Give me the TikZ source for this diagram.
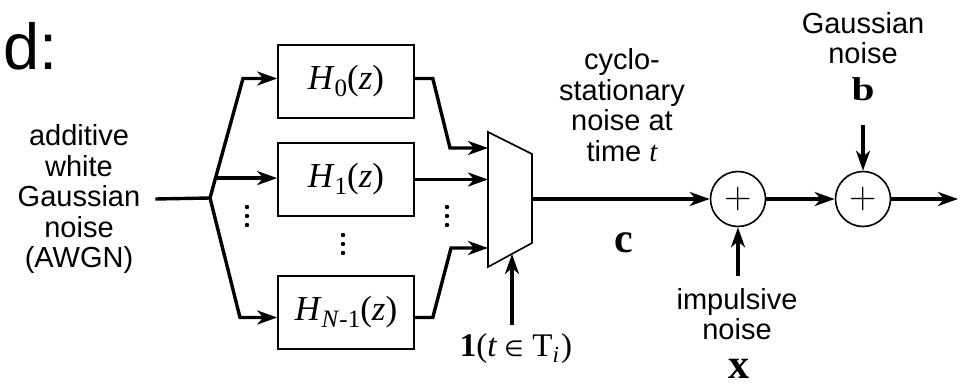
\documentclass[tikz,border=0pt]{standalone}
\usepackage{fontspec}
\setsansfont{Liberation Sans}
\newfontfamily\tms{Liberation Serif}
\newfontfamily\dvs{DejaVu Sans}
\usetikzlibrary{arrows.meta,calc}
\newcommand{\Hsub}[1]{{\tms\fontsize{35}{35}\selectfont\textit{H}\raisebox{-7pt}{\fontsize{25}{25}\selectfont #1}(\textit{z})}}
\begin{document}
\begin{tikzpicture}[x=1pt,y=-1pt,
  lbl/.style={font=\sffamily\fontsize{29}{30.5}\selectfont, align=center, inner sep=0pt},
  wire/.style={line width=3.4pt, line join=miter},
  arr/.style={wire,-{Stealth[length=20pt,width=14pt,inset=6pt]}},
  filt/.style={draw, line width=1.6pt, minimum width=136pt, minimum height=73pt, inner sep=0pt},
  sum/.style={draw, circle, line width=1.6pt, minimum size=55pt, inner sep=0pt, font=\rmfamily\fontsize{38}{38}\selectfont},
  vec/.style={font=\tms\bfseries\fontsize{42}{42}\selectfont, inner sep=0pt},
  thinline/.style={line width=1.6pt, line join=miter}
]
\useasboundingbox (0,0) rectangle (965,385);

\node[font=\sffamily\fontsize{65}{65}\selectfont, anchor=base west, inner sep=0pt] (lab) at (3,70) {d:};

\node[lbl] (awgn) at (79,199) {additive\\white\\Gaussian\\noise\\(AWGN)};

\node[filt] (h0) at (346,81.5) {\Hsub{0}};
\node[filt] (h1) at (346,179.5) {\Hsub{1}};
\node[filt] (hn) at (346,312.5) {\Hsub{\textit{N}-1}};

\coordinate (split) at (210,198);
\coordinate (b0) at (243,78.5);
\coordinate (bn) at (240,317.5);
\coordinate (b1) at ($(split)!0.1667!(b0)$);

\draw[wire] ([xshift=15pt]awgn.east) -- (split);
\draw[arr] (split) -- (b0) -- (b0 -| h0.west);
\draw[arr] (b1) -- (b1 -| h1.west);
\draw[arr] (split) -- (bn) -- (bn -| hn.west);

% multiplexer
\coordinate (mtl) at (488,132);
\coordinate (mtr) at (532,154);
\coordinate (mbr) at (532,243);
\coordinate (mbl) at (488,267);
\draw[thinline] (mtl) -- (mtr) -- (mbr) -- (mbl) -- cycle;
\coordinate (mout) at (532,199);
\coordinate (mctl) at (512,254);

\coordinate (c0) at (450,148);
\coordinate (cn) at (451,248);
\draw[arr] ([yshift=3pt]h0.east) -- ++(18,0) -- (c0) -- (c0 -| mtl);
\draw[arr] (h1.east) -- (h1.east -| mtl);
\draw[arr] ([yshift=-5pt]hn.east) -- ++(18,0) -- (cn) -- (cn -| mtl);

% dots
\foreach \y in {207,216,225} {\fill (247,\y) circle (2.2pt); \fill (447,\y) circle (2.2pt);}
\foreach \y in {235,244,253} {\fill (343,\y) circle (2.2pt);}

% control
\node[inner sep=0pt] (ctl) at (516,349) {\tms\fontsize{33}{33}\selectfont\textbf{1}(\textit{t}\hspace{7pt}{\dvs\fontsize{22}{22}\selectfont ∈}\hspace{9pt}T\raisebox{-6pt}{\fontsize{23}{23}\selectfont\textit{i}}\hspace{2pt})};
\draw[arr] (ctl.north -| mctl) ++(0,-9) -- (mctl);

% sums
\node[sum] (s1) at (738,199) {+};
\node[sum] (s2) at (863,199) {+};
\coordinate (out) at (958,199);
\draw[arr] (mout) -- (s1);
\draw[arr] (s1) -- (s2);
\draw[arr] (s2) -- (out);

\node[lbl] (cyc) at (622,105) {cyclo-\\stationary\\noise at\\time {\tms\itshape t}};
\node[vec] (c) at (624,243) {c};

\node[lbl] (imp) at (737,314) {impulsive\\noise};
\node[vec] (x) at (739,369) {x};
\draw[arr] ($(imp.north -| s1)+(0,-12)$) -- (s1.south);

\node[lbl] (gn) at (863,38) {Gaussian\\noise};
\node[vec, font=\tms\bfseries\fontsize{33}{33}\selectfont] (b) at (863,89) {\scalebox{1.25}[1]{b}};
\draw[arr] ($(b)+(0,36)$) -- (s2.north);
\end{tikzpicture}
\end{document}
